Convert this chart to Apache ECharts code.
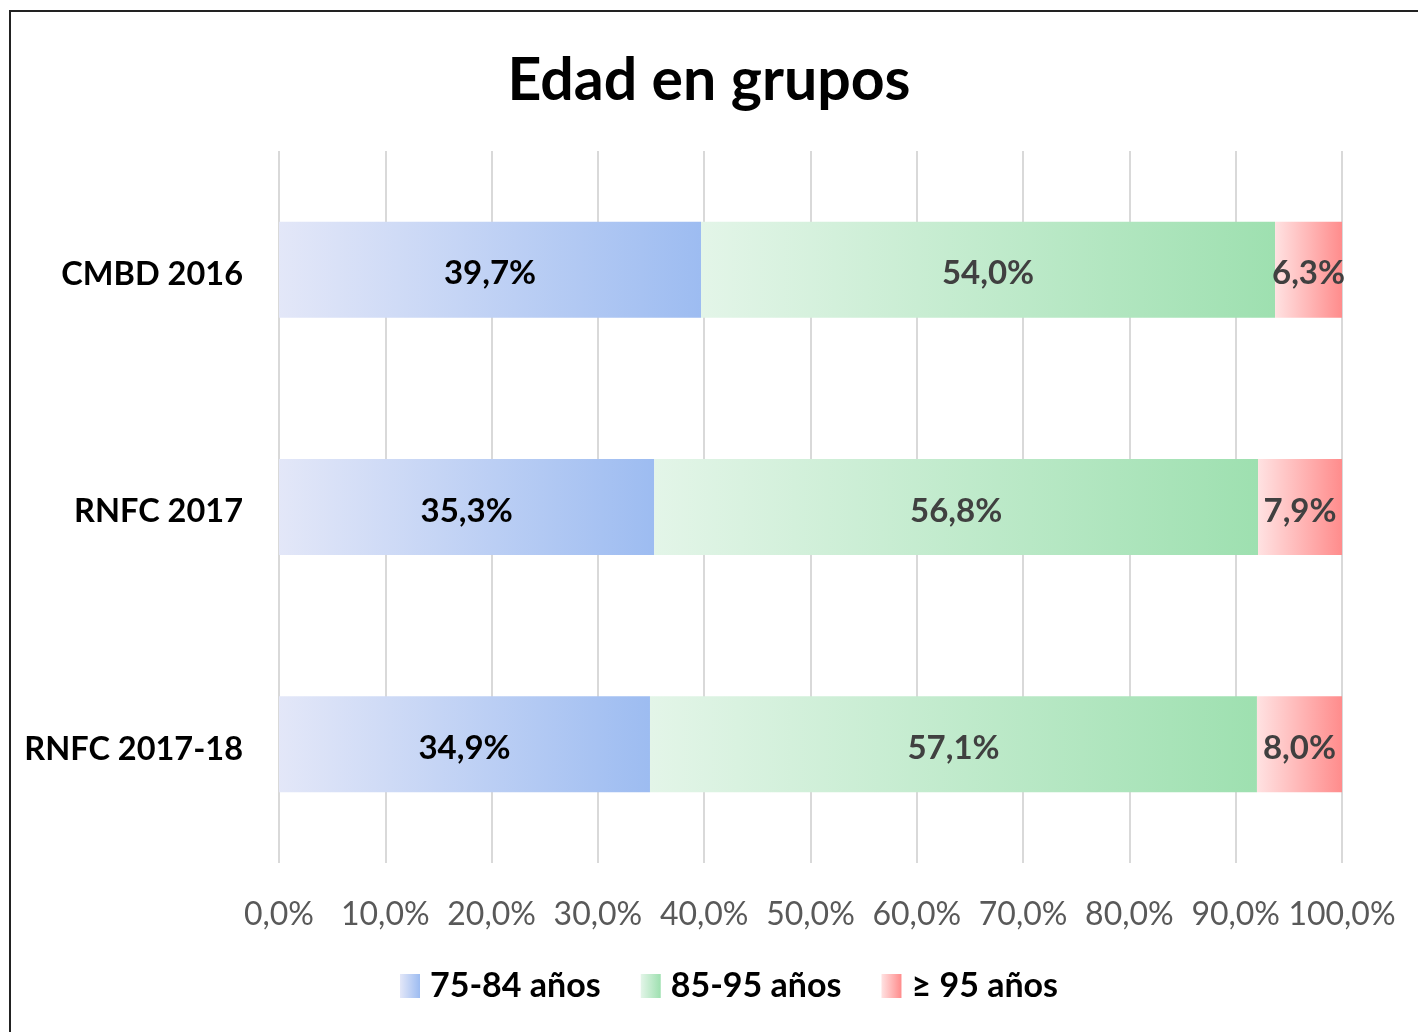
<!DOCTYPE html>
<html>
<head>
<meta charset="utf-8">
<script src="https://cdn.jsdelivr.net/npm/echarts@6/dist/echarts.min.js"></script>
<style>
  html, body { margin: 0; padding: 0; background: #fff; }
  #frame { position: absolute; left: 9px; top: 10px; width: 1430px; height: 1040px; border: 2px solid #222; box-sizing: border-box; }
  #chart { position: absolute; left: 0; top: 0; width: 1418px; height: 1032px; }
</style>
</head>
<body>
<div id="frame"></div>
<div id="chart"></div>
<script>
// datos
const categorias = ['CMBD 2016', 'RNFC 2017', 'RNFC 2017-18']
const grupos = ['75-84 años', '85-95 años', '≥ 95 años']
const edad75_84 = [39.7, 35.3, 34.9]
const edad85_95 = [54.0, 56.8, 57.1]
const edad95 = [6.3, 7.9, 8.0]

const fuente = 'Lato, "Open Sans", sans-serif'

// degradado horizontal para cada grupo
function degradado (c0, c1) {
  return {
    type: 'linear', x: 0, y: 0, x2: 1, y2: 0,
    colorStops: [{ offset: 0, color: c0 }, { offset: 1, color: c1 }]
  }
}

function fmt (v) {
  return v.toFixed(1).replace('.', ',') + '%'
}

function serie (name, data, color, labelColor) {
  return {
    name: name,
    type: 'bar',
    stack: 'total',
    barWidth: 96,
    data: data,
    itemStyle: { color: color },
    label: {
      show: true,
      position: 'inside',
      offset: [0, 4],
      formatter: p => fmt(p.value),
      color: labelColor,
      fontFamily: fuente,
      fontWeight: 'bold',
      fontSize: 33
    },
    emphasis: { disabled: true }
  }
}

let mychart = echarts.init(document.getElementById('chart'))
let option = {
  animation: false,
  title: {
    text: 'Edad en grupos',
    left: 'center',
    top: 46,
    textStyle: { fontFamily: fuente, fontWeight: 'bold', fontSize: 59, color: '#000' }
  },
  grid: { left: 279, right: 76, top: 151, bottom: 169 },
  legend: {
    data: grupos,
    bottom: 24,
    left: 395,
    itemWidth: 20,
    itemHeight: 24,
    itemGap: 40,
    icon: 'rect',
    textStyle: { fontFamily: fuente, fontWeight: 'bold', fontSize: 34, color: '#000', padding: [0, 0, 0, 5] }
  },
  xAxis: {
    type: 'value',
    min: 0,
    max: 100,
    interval: 10,
    axisLine: { show: false },
    axisTick: { show: false },
    splitLine: { lineStyle: { color: '#d9d9d9', width: 2 } },
    axisLabel: {
      margin: 36,
      formatter: v => fmt(v),
      color: '#595959',
      fontFamily: fuente,
      fontSize: 32
    }
  },
  yAxis: {
    type: 'category',
    inverse: true,
    data: categorias,
    axisLine: { show: false },
    axisTick: { show: false },
    axisLabel: {
      margin: 36,
      formatter: v => '{c|' + v + '}',
      rich: {
        c: {
          padding: [10, 0, 0, 0],
          color: '#000',
          fontFamily: fuente,
          fontWeight: 'bold',
          fontSize: 32.5
        }
      }
    }
  },
  series: [
    serie(grupos[0], edad75_84, degradado('#e3e7f8', '#9dbcf1'), '#000'),
    serie(grupos[1], edad85_95, degradado('#e3f5e8', '#9ee0b0'), '#404040'),
    serie(grupos[2], edad95, degradado('#ffe2e2', '#ff8c8c'), '#404040')
  ]
}
mychart.setOption(option)
</script>
</body>
</html>
